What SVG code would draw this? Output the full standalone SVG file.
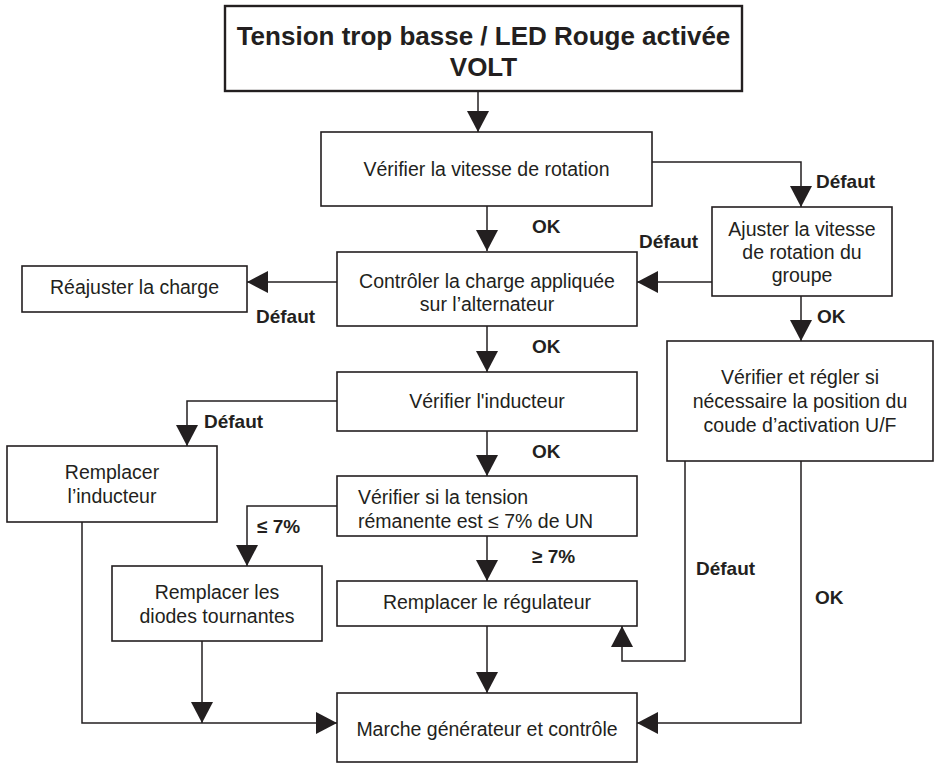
<svg xmlns="http://www.w3.org/2000/svg" width="934" height="766" viewBox="0 0 934 766">
<style>
.box{fill:#fff;stroke:#231f20;stroke-width:1.6}
.top{fill:#fff;stroke:#231f20;stroke-width:2.4}
.t{font-family:"Liberation Sans",Arial,sans-serif;font-size:19.5px;fill:#231f20}
.c{text-anchor:middle}
.h{font-family:"Liberation Sans",Arial,sans-serif;font-size:26px;font-weight:bold;fill:#231f20;text-anchor:middle}
.l{font-family:"Liberation Sans",Arial,sans-serif;font-size:19px;font-weight:bold;fill:#231f20}
.cn path{fill:none;stroke:#231f20;stroke-width:1.5}
</style>
<defs>
<marker id="a" markerUnits="userSpaceOnUse" markerWidth="22" markerHeight="22" viewBox="0 0 21 22" refX="21" refY="11" orient="auto">
<path d="M0,0 L21,11 L0,22 z" fill="#231f20"/>
</marker>
</defs>
<rect width="934" height="766" fill="#fff"/>
<g class="cn" id="connectors">
<path d="M478,91 V132" marker-end="url(#a)"/>
<path d="M487,206 V251" marker-end="url(#a)"/>
<path d="M652,162 H801 V207" marker-end="url(#a)"/>
<path d="M712,282 H637" marker-end="url(#a)"/>
<path d="M801,296 V341" marker-end="url(#a)"/>
<path d="M337,282 H247" marker-end="url(#a)"/>
<path d="M487,326 V372" marker-end="url(#a)"/>
<path d="M337,401 H187 V446" marker-end="url(#a)"/>
<path d="M487,431 V476" marker-end="url(#a)"/>
<path d="M337,506 H247 V566" marker-end="url(#a)"/>
<path d="M487,536 V581" marker-end="url(#a)"/>
<path d="M487,626 V693" marker-end="url(#a)"/>
<path d="M685,461 V661 H622 V626" marker-end="url(#a)"/>
<path d="M801,461 V723 H637" marker-end="url(#a)"/>
<path d="M82,522 V723 H337" marker-end="url(#a)"/>
<path d="M202,641 V723" marker-end="url(#a)"/>
</g>
<g id="labels">
<text class="l" x="532" y="233">OK</text>
<text class="l" x="816" y="188">Défaut</text>
<text class="l" x="639" y="248">Défaut</text>
<text class="l" x="256" y="323">Défaut</text>
<text class="l" x="817" y="323">OK</text>
<text class="l" x="532" y="353">OK</text>
<text class="l" x="204" y="428">Défaut</text>
<text class="l" x="532" y="458">OK</text>
<text class="l" x="257" y="533">≤ 7%</text>
<text class="l" x="532" y="563">≥ 7%</text>
<text class="l" x="696" y="575">Défaut</text>
<text class="l" x="815" y="604">OK</text>
</g>
<g id="n-title">
<rect class="top" x="225" y="6" width="517" height="85"/>
<text class="h" x="483.5" y="45">Tension trop basse / LED Rouge activée</text>
<text class="h" x="483.5" y="76">VOLT</text>
</g>
<g id="n-vitesse">
<rect class="box" x="321" y="132" width="331" height="74"/>
<text class="t c" x="486.5" y="176">Vérifier la vitesse de rotation</text>
</g>
<g id="n-charge">
<rect class="box" x="337" y="252" width="300" height="74"/>
<text class="t c" x="487" y="288">Contrôler la charge appliquée</text>
<text class="t c" x="487" y="311">sur l’alternateur</text>
</g>
<g id="n-reajuster">
<rect class="box" x="22" y="266" width="225" height="46"/>
<text class="t c" x="134.5" y="294">Réajuster la charge</text>
</g>
<g id="n-ajuster">
<rect class="box" x="712" y="207" width="180" height="89"/>
<text class="t c" x="802" y="236">Ajuster la vitesse</text>
<text class="t c" x="802" y="259">de rotation du</text>
<text class="t c" x="802" y="282">groupe</text>
</g>
<g id="n-regler">
<rect class="box" x="667" y="341" width="266" height="120"/>
<text class="t c" x="800" y="384">Vérifier et régler si</text>
<text class="t c" x="800" y="408">nécessaire la position du</text>
<text class="t c" x="800" y="432">coude d’activation U/F</text>
</g>
<g id="n-inducteur">
<rect class="box" x="337" y="372" width="300" height="59"/>
<text class="t c" x="487" y="408">Vérifier l'inducteur</text>
</g>
<g id="n-remp-inducteur">
<rect class="box" x="7" y="446" width="210" height="76"/>
<text class="t c" x="112" y="479">Remplacer</text>
<text class="t c" x="112" y="503">l’inducteur</text>
</g>
<g id="n-tension">
<rect class="box" x="337" y="476" width="300" height="60"/>
<text class="t" x="358" y="504">Vérifier si la tension</text>
<text class="t" x="358" y="528">rémanente est ≤ 7% de UN</text>
</g>
<g id="n-diodes">
<rect class="box" x="112" y="566" width="210" height="75"/>
<text class="t c" x="217" y="599">Remplacer les</text>
<text class="t c" x="217" y="623">diodes tournantes</text>
</g>
<g id="n-regulateur">
<rect class="box" x="337" y="581" width="300" height="45"/>
<text class="t c" x="487" y="609">Remplacer le régulateur</text>
</g>
<g id="n-marche">
<rect class="box" x="337" y="693" width="300" height="69"/>
<text class="t c" x="487" y="736">Marche générateur et contrôle</text>
</g>
</svg>
